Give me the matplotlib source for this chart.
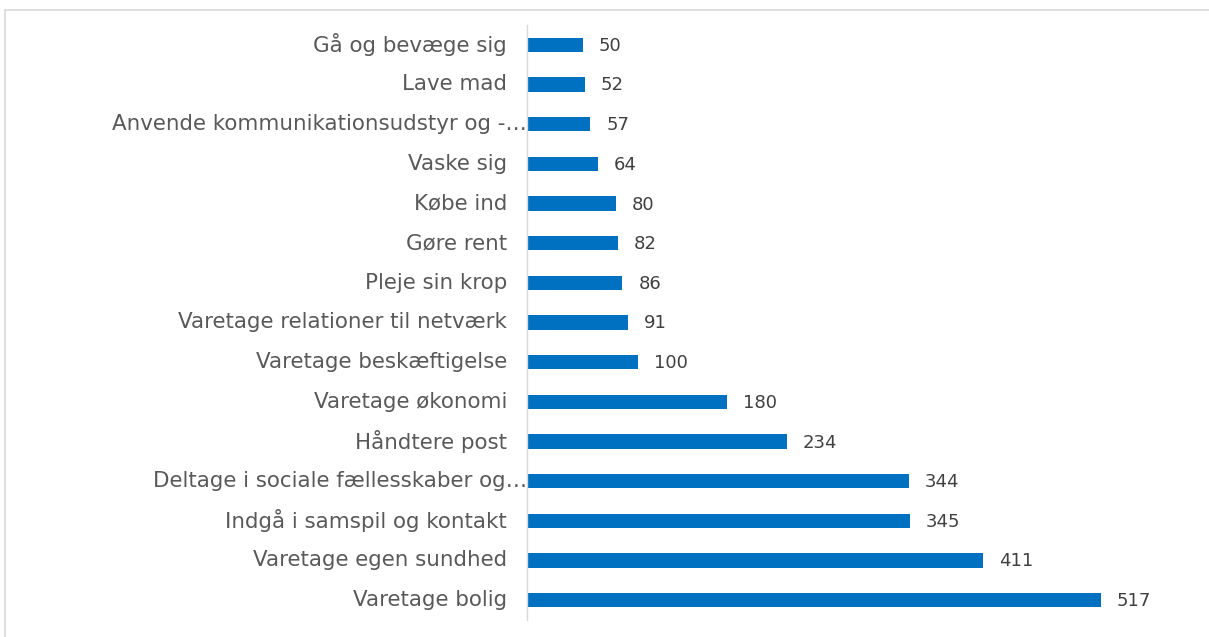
import matplotlib
matplotlib.use("Agg")
import matplotlib.pyplot as plt
from matplotlib.patches import Rectangle
from matplotlib.transforms import blended_transform_factory, offset_copy

# data (top to bottom as shown)
categories = [
    "Gå og bevæge sig",
    "Lave mad",
    "Anvende kommunikationsudstyr og -…",
    "Vaske sig",
    "Købe ind",
    "Gøre rent",
    "Pleje sin krop",
    "Varetage relationer til netværk",
    "Varetage beskæftigelse",
    "Varetage økonomi",
    "Håndtere post",
    "Deltage i sociale fællesskaber og…",
    "Indgå i samspil og kontakt",
    "Varetage egen sundhed",
    "Varetage bolig",
]
values = [50, 52, 57, 64, 80, 82, 86, 91, 100, 180, 234, 344, 345, 411, 517]
truncated = [False, False, True, False, False, False, False, False, False,
             False, False, True, False, False, False]

W, H = 1209, 637
fig = plt.figure(figsize=(W / 100, H / 100), dpi=100)
plt.rcParams['font.family'] = ['DejaVu Sans']

# light frame around the chart
fig.patches.append(Rectangle((5 / W, -0.1), 1.1, 1 - 10 / H + 0.1, transform=fig.transFigure,
                             fill=False, edgecolor="#d9d9d9", linewidth=1.2))

ax = fig.add_axes([527 / W, 17 / H, 666 / W, 595 / H])
ypos = list(range(len(categories)))
ax.barh(ypos, values, height=0.36, color="#0070c0")
ax.set_xlim(0, 600)
ax.set_ylim(len(categories) - 0.5, -0.5)

for s in ["top", "right", "bottom"]:
    ax.spines[s].set_visible(False)
ax.spines["left"].set_color("#d9d9d9")
ax.spines["left"].set_linewidth(1.0)
ax.set_xticks([])
ax.set_yticks([])

# category labels
trans = blended_transform_factory(ax.transAxes, ax.transData)
for y, lab, tr in zip(ypos, categories, truncated):
    dx = 0 if tr else -20
    ax.text(0, y, lab, transform=offset_copy(trans, fig, x=dx, y=0, units="dots"),
            ha="right", va="center", fontsize=15.4, color="#595959")

# value labels
for y, v in zip(ypos, values):
    ax.annotate(str(v), (v, y), xytext=(16, -1), textcoords="offset pixels",
                ha="left", va="center", fontsize=13, color="#404040")

fig.savefig("out.png", dpi=100)
